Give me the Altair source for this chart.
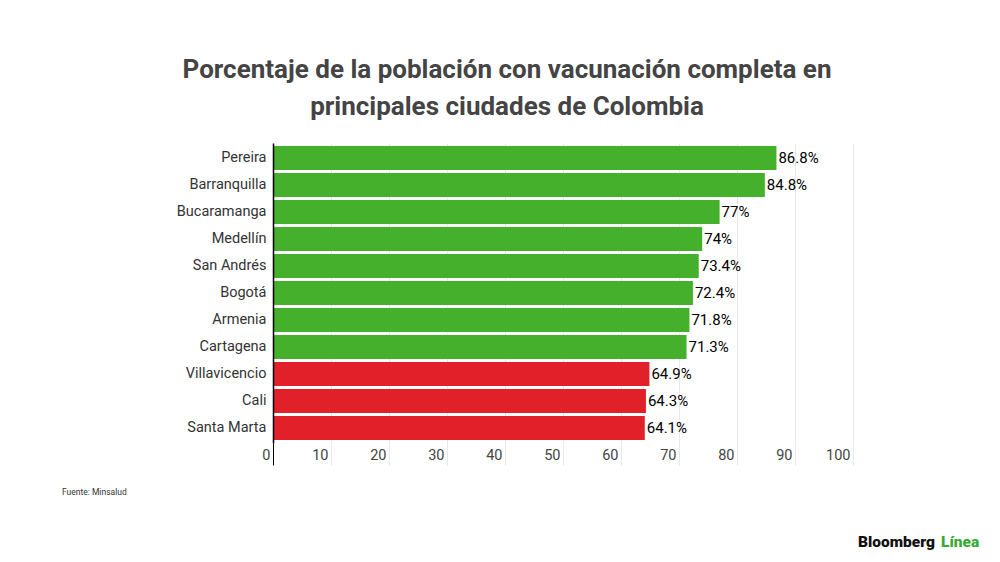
import altair as alt
import pandas as pd

cities = ["Pereira", "Barranquilla", "Bucaramanga", "Medellín", "San Andrés",
          "Bogotá", "Armenia", "Cartagena", "Villavicencio", "Cali", "Santa Marta"]
values = [86.8, 84.8, 77, 74, 73.4, 72.4, 71.8, 71.3, 64.9, 64.3, 64.1]
labels = ["86.8%", "84.8%", "77%", "74%", "73.4%", "72.4%", "71.8%", "71.3%",
          "64.9%", "64.3%", "64.1%"]
groups = ["alto"] * 8 + ["bajo"] * 3
x_ticks = [0, 10, 20, 30, 40, 50, 60, 70, 80, 90, 100]

df = pd.DataFrame({"ciudad": cities, "valor": values, "etiqueta": labels, "grupo": groups})

FONT = "Roboto"
GRID = "#e8e8e8"

y_enc = alt.Y("ciudad:N", sort=cities, title=None,
              scale=alt.Scale(paddingInner=0.11, paddingOuter=0.11),
              axis=alt.Axis(domain=True, domainColor="#000", domainWidth=1.5,
                            ticks=False, labelFontSize=14.5, labelColor="#333333",
                            labelFont=FONT, labelPadding=7, zindex=1))
x_enc = alt.X("valor:Q", title=None,
              scale=alt.Scale(domain=[0, 100], nice=False),
              axis=alt.Axis(values=x_ticks, domain=False, grid=True,
                            gridColor=alt.condition("datum.value == 0", alt.value("transparent"), alt.value(GRID)),
                            tickColor=alt.condition("datum.value == 0", alt.value("#000"), alt.value(GRID)),
                            tickSize=22, tickWidth=1,
                            labelAlign="right", labelOffset=-3, labelBaseline="middle",
                            labelPadding=-10, labelFontSize=14.5, labelColor="#444444",
                            labelFont=FONT))

bars = alt.Chart(df).mark_bar().encode(
    y=y_enc, x=x_enc,
    color=alt.Color("grupo:N", legend=None,
                    scale=alt.Scale(domain=["alto", "bajo"], range=["#44b02c", "#e2202a"])),
)

text = alt.Chart(df).mark_text(align="left", baseline="middle", dx=2,
                               fontSize=15, font=FONT, color="#000").encode(
    y=alt.Y("ciudad:N", sort=cities),
    x=alt.X("valor:Q"),
    text="etiqueta:N",
)

note = alt.Chart(pd.DataFrame({"t": ["Fuente: Minsalud"]})).mark_text(
    align="left", baseline="middle", fontSize=8.5, font=FONT, color="#333333").encode(
    x=alt.value(-211), y=alt.value(349), text="t:N")

logo1 = alt.Chart(pd.DataFrame({"t": ["Bloomberg"]})).mark_text(
    align="left", baseline="middle", fontSize=15.5, font=FONT, fontWeight=900, color="#111111").encode(
    x=alt.value(585), y=alt.value(399), text="t:N")

logo2 = alt.Chart(pd.DataFrame({"t": ["Línea"]})).mark_text(
    align="left", baseline="middle", fontSize=15.5, font=FONT, fontWeight=900, color="#3aaa35").encode(
    x=alt.value(668), y=alt.value(399), text="t:N")

chart = alt.layer(bars, text, note, logo1, logo2).properties(
    width=580, height=300,
    title=alt.TitleParams(
        text=["Porcentaje de la población con vacunación completa en",
              "principales ciudades de Colombia"],
        font=FONT, fontSize=26, fontWeight="bold", color="#444444",
        lineHeight=37, anchor="middle", dx=-56, dy=25, offset=22, baseline="bottom"),
    autosize=alt.AutoSizeParams(type="none"),
    padding={"left": 265, "top": 135, "right": 137, "bottom": 110},
    background="white",
).configure_view(stroke=None)

chart.save("out.html", embed_options={"renderer": "svg", "actions": False})
